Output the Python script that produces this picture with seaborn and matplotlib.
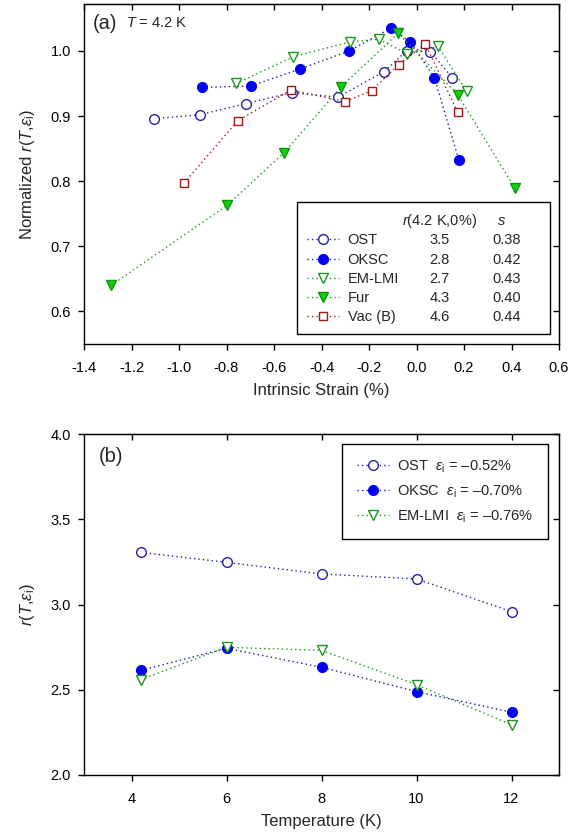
import matplotlib
matplotlib.use("Agg")
import matplotlib.pyplot as plt
import seaborn as sns
from matplotlib.patches import Rectangle
from matplotlib.ticker import FormatStrFormatter

# ---------------- data: panel (a) ----------------
ost_strain = [-1.105, -0.912, -0.719, -0.526, -0.331, -0.137, -0.041, 0.057, 0.151]
ost_norm = [0.896, 0.902, 0.919, 0.936, 0.929, 0.968, 1.000, 0.999, 0.959]

oksc_strain = [-0.903, -0.698, -0.492, -0.283, -0.107, -0.027, 0.075, 0.178]
oksc_norm = [0.944, 0.946, 0.972, 1.000, 1.035, 1.014, 0.959, 0.833]

emlmi_strain = [-0.760, -0.519, -0.278, -0.160, -0.041, 0.091, 0.211]
emlmi_norm = [0.950, 0.991, 1.014, 1.018, 0.996, 1.007, 0.938]

fur_strain = [-1.286, -0.797, -0.557, -0.317, -0.077, 0.173, 0.413]
fur_norm = [0.640, 0.763, 0.844, 0.945, 1.027, 0.933, 0.790]

vac_strain = [-0.979, -0.752, -0.528, -0.301, -0.189, -0.075, 0.037, 0.173]
vac_norm = [0.797, 0.893, 0.940, 0.922, 0.939, 0.979, 1.011, 0.906]

names_a = ["OST", "OKSC", "EM-LMI", "Fur", "Vac (B)"]
r0_vals = ["3.5", "2.8", "2.7", "4.3", "4.6"]
s_vals = ["0.38", "0.42", "0.43", "0.40", "0.44"]

# ---------------- data: panel (b) ----------------
temps = [4.2, 6, 8, 10, 12]
ost_r = [3.306, 3.247, 3.179, 3.150, 2.958]
oksc_r = [2.614, 2.743, 2.632, 2.489, 2.368]
emlmi_r = [2.560, 2.749, 2.731, 2.530, 2.295]
names_b = [r"OST  $\varepsilon_{\mathrm{i}}$ = –0.52%",
           r"OKSC  $\varepsilon_{\mathrm{i}}$ = –0.70%",
           r"EM-LMI  $\varepsilon_{\mathrm{i}}$ = –0.76%"]

xticks_a = [-1.4, -1.2, -1.0, -0.8, -0.6, -0.4, -0.2, 0.0, 0.2, 0.4, 0.6]
yticks_a = [0.6, 0.7, 0.8, 0.9, 1.0]
xticks_b = [4, 6, 8, 10, 12]
yticks_b = [2.0, 2.5, 3.0, 3.5, 4.0]

# ---------------- style ----------------
sns.set_style("ticks")
plt.rcParams["font.family"] = ["Liberation Sans", "DejaVu Sans"]
plt.rcParams["mathtext.fontset"] = "custom"
plt.rcParams["mathtext.rm"] = "Liberation Sans"
plt.rcParams["mathtext.it"] = "Liberation Sans:italic"
plt.rcParams["axes.unicode_minus"] = False
plt.rcParams["axes.edgecolor"] = "black"
plt.rcParams["xtick.color"] = "black"
plt.rcParams["ytick.color"] = "black"

C_OST = "#2323a0"
C_OKSC_L = "#1c1c9c"
C_OKSC_F = "#0000f5"
C_EM = "#1a961a"
C_FUR_F = "#10d010"
C_FUR_E = "#0a960a"
C_VAC = "#a01818"
LS = (0, (1, 2.2))
FS = 10.5

fig = plt.figure(figsize=(5.83, 8.36), dpi=100)
W, H = 583.0, 836.0
ax1 = fig.add_axes([84 / W, 1 - 344 / H, 475 / W, 340 / H])
ax2 = fig.add_axes([84 / W, 1 - 775 / H, 475 / W, 341 / H])


def draw(ax, x, y, lc, marker, face, edge, ms):
    sns.lineplot(x=x, y=y, ax=ax, color=lc, linestyle=LS, linewidth=1.0,
                 marker=marker, markersize=ms, markerfacecolor=face,
                 markeredgecolor=edge, markeredgewidth=1.0,
                 sort=False, estimator=None, errorbar=None)


draw(ax1, ost_strain, ost_norm, C_OST, "o", "white", C_OST, 7)
draw(ax1, oksc_strain, oksc_norm, C_OKSC_L, "o", C_OKSC_F, C_OKSC_F, 7)
draw(ax1, emlmi_strain, emlmi_norm, C_EM, "v", "white", C_EM, 7)
draw(ax1, fur_strain, fur_norm, C_EM, "v", C_FUR_F, C_FUR_E, 7)
draw(ax1, vac_strain, vac_norm, C_VAC, "s", "white", C_VAC, 6.3)

draw(ax2, temps, ost_r, C_OST, "o", "white", C_OST, 7)
draw(ax2, temps, oksc_r, C_OKSC_L, "o", C_OKSC_F, C_OKSC_F, 7)
draw(ax2, temps, emlmi_r, C_EM, "v", "white", C_EM, 7)


def style_axes(ax, xt, yt, xlim, ylim, xfmt, yfmt):
    ax.set_xlim(*xlim)
    ax.set_ylim(*ylim)
    ax.set_xticks(xt)
    ax.set_yticks(yt)
    ax.xaxis.set_major_formatter(FormatStrFormatter(xfmt))
    ax.yaxis.set_major_formatter(FormatStrFormatter(yfmt))
    ax.tick_params(direction="out", length=4.5, width=1, labelsize=FS)
    ax.tick_params(axis="x", pad=7.5)
    ax.tick_params(axis="y", pad=5)
    for sp in ax.spines.values():
        sp.set_linewidth(1.0)
        sp.set_color("black")
    top = ax.secondary_xaxis("top")
    top.set_xticks(xt)
    top.tick_params(direction="in", length=4.5, width=1, labeltop=False)
    right = ax.secondary_yaxis("right")
    right.set_yticks(yt)
    right.tick_params(direction="in", length=4.5, width=1, labelright=False)


style_axes(ax1, xticks_a, yticks_a, (-1.4, 0.6), (0.55, 1.072), "%.1f", "%.1f")
style_axes(ax2, xticks_b, yticks_b, (3, 13), (2.0, 4.0), "%d", "%.1f")

ax1.set_xlabel("Intrinsic Strain (%)", fontsize=12, labelpad=6)
ax1.set_ylabel(r"Normalized $r$($T$,$\varepsilon_{\mathrm{i}}$)", fontsize=12)
ax1.yaxis.set_label_coords(-0.1, 0.5)
ax2.set_xlabel("Temperature (K)", fontsize=12, labelpad=6)
ax2.set_ylabel(r"$r$($T$,$\varepsilon_{\mathrm{i}}$)", fontsize=12)
ax2.yaxis.set_label_coords(-0.1, 0.5)

ax1.text(0.018, 0.944, "(a)", transform=ax1.transAxes, fontsize=14.5,
         ha="left", va="center")
ax1.text(0.088, 0.944, r"$T$ = 4.2 K", transform=ax1.transAxes, fontsize=10.5,
         ha="left", va="center")
ax2.text(0.03, 0.935, "(b)", transform=ax2.transAxes, fontsize=14.5,
         ha="left", va="center")

# ---------------- legend (a) ----------------
ax1.add_patch(Rectangle((0.448, 0.029), 0.533, 0.389, transform=ax1.transAxes,
                        facecolor="white", edgecolor="black", linewidth=1.0,
                        zorder=5))
leg1 = ax1.legend(ax1.lines[:5], names_a, loc="upper left",
                  bbox_to_anchor=(0.469, 0.325), frameon=False, fontsize=FS,
                  borderpad=0, borderaxespad=0, handlelength=2.2,
                  handletextpad=0.6, labelspacing=0.36, numpoints=1)
leg1.set_zorder(6)

# ---------------- legend (b) ----------------
leg2 = ax2.legend(ax2.lines[:3], names_b, loc="upper right",
                  bbox_to_anchor=(0.977, 0.971), frameon=True, fancybox=False,
                  edgecolor="black", framealpha=1, fontsize=FS,
                  borderpad=1.0, borderaxespad=0, handlelength=2.2,
                  handletextpad=0.6, labelspacing=0.58, numpoints=1)
leg2.get_frame().set_linewidth(1.0)

# align column texts of legend (a) to the legend rows
fig.canvas.draw()
renderer = fig.canvas.get_renderer()
inv = ax1.transAxes.inverted()
rows_y = []
for t in leg1.get_texts():
    bb = t.get_window_extent(renderer)
    rows_y.append(inv.transform((0, (bb.y0 + bb.y1) / 2))[1])
step = rows_y[0] - rows_y[1]
for ya, rv, sv in zip(rows_y, r0_vals, s_vals):
    ax1.text(0.749, ya, rv, transform=ax1.transAxes, fontsize=FS,
             ha="center", va="center", zorder=7)
    ax1.text(0.890, ya, sv, transform=ax1.transAxes, fontsize=FS,
             ha="center", va="center", zorder=7)
hy = rows_y[0] + step
ax1.text(0.748, hy, r"$r$(4.2 K,0%)", transform=ax1.transAxes, fontsize=FS,
         ha="center", va="center", zorder=7)
ax1.text(0.879, hy, r"$s$", transform=ax1.transAxes, fontsize=FS,
         ha="center", va="center", zorder=7)

fig.savefig("out.png", dpi=100)
